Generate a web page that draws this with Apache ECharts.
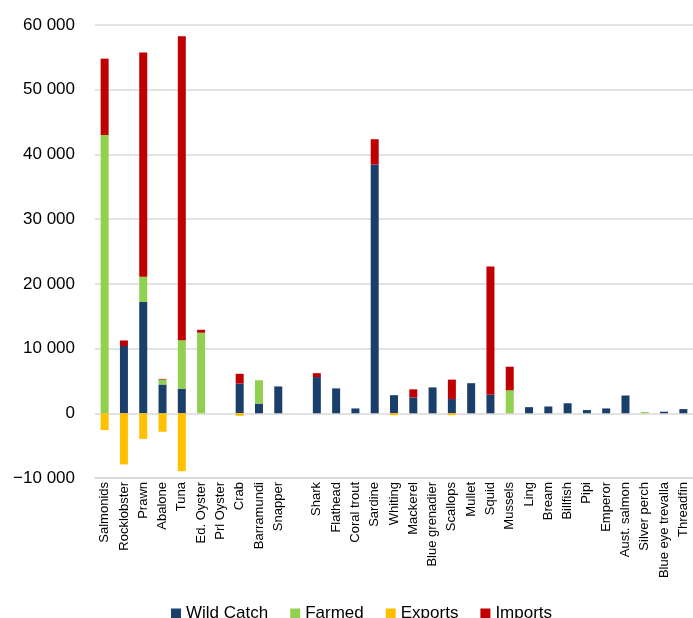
<!DOCTYPE html>
<html>
<head>
<meta charset="utf-8">
<script src="https://cdn.jsdelivr.net/npm/echarts@6/dist/echarts.min.js"></script>
<style>
html,body{margin:0;padding:0;background:#fff;}
#chart{width:693px;height:618px;}
</style>
</head>
<body>
<div id="chart"></div>
<script>
const categories = ['Salmonids','Rocklobster','Prawn','Abalone','Tuna','Ed. Oyster','Prl Oyster','Crab','Barramundi','Snapper','','Shark','Flathead','Coral trout','Sardine','Whiting','Mackerel','Blue grenadier','Scallops','Mullet','Squid','Mussels','Ling','Bream','Billfish','Pipi','Emperor','Aust. salmon','Silver perch','Blue eye trevalla','Threadfin'];
const wildCatch = [0,10400,17200,4450,3800,0,0,4600,1500,4150,0,5600,3850,750,38450,2800,2450,4000,2200,4650,2850,0,950,1050,1550,500,750,2750,0,250,650];
const farmed = [43000,0,3900,760,7500,12450,0,0,3600,0,0,0,0,0,0,0,0,0,0,0,0,3550,0,0,0,0,0,0,200,0,0];
const exportsData = [-2600,-7900,-3950,-2850,-8950,0,0,-400,0,0,0,0,0,0,0,-300,0,0,-300,0,0,0,0,0,0,0,0,0,0,0,0];
const imports = [11800,850,34650,100,46950,450,0,1500,0,0,0,600,0,0,3900,0,1250,0,3000,0,19850,3650,0,0,0,0,0,0,0,0,0];
const yTicks = {min:-10000, max:60000, interval:10000};

function fmt(v){
  const s = Math.abs(v).toString().replace(/\B(?=(\d{3})+(?!\d))/g,' ');
  return (v<0?'\u2212':'') + s;
}
const chart = echarts.init(document.getElementById('chart'));
const barW = 8;
function s(name, data, color){
  return {name:name, type:'bar', stack:'total', data:data, barWidth:barW,
    itemStyle:{color:color}, emphasis:{disabled:true}};
}
const series = [
  s('Wild Catch', wildCatch, '#1a3f6b'),
  s('Farmed', farmed, '#92d050'),
  s('Exports', exportsData, '#ffc000'),
  s('Imports', imports, '#c00000')
];
series[0].markLine = {
  silent:true, symbol:['none','none'], label:{show:false}, animation:false,
  lineStyle:{color:'#d9d9d9', width:1.5, type:'solid'},
  data:[{yAxis:yTicks.min}]
};
chart.setOption({
  animation:false,
  textStyle:{fontFamily:'Liberation Sans, Arial, sans-serif'},
  grid:{left:95, right:-5, top:25, bottom:140, containLabel:false},
  legend:{
    left:166, top:600, itemWidth:10, itemHeight:10, itemGap:22,
    icon:'rect',
    textStyle:{fontSize:17, color:'#000', fontFamily:'Liberation Sans, Arial, sans-serif', padding:[0,0,0,0]},
    data:['Wild Catch','Farmed','Exports','Imports']
  },
  xAxis:{
    type:'category', data:categories,
    axisLine:{show:true, onZero:false, lineStyle:{color:'#d9d9d9', width:1.5}}, axisTick:{show:false},
    axisLabel:{interval:0, rotate:90, fontSize:13, color:'#000', margin:4,
      fontFamily:'Liberation Sans, Arial, sans-serif'}
  },
  yAxis:{
    type:'value', min:yTicks.min, max:yTicks.max, interval:yTicks.interval,
    axisLine:{show:false}, axisTick:{show:false},
    splitLine:{showMinLine:true, showMaxLine:true, lineStyle:{color:'#d9d9d9', width:1.5}},
    axisLabel:{fontSize:17, color:'#000', margin:20, formatter:fmt,
      fontFamily:'Liberation Sans, Arial, sans-serif'}
  },
  series:series
});
</script>
</body>
</html>
